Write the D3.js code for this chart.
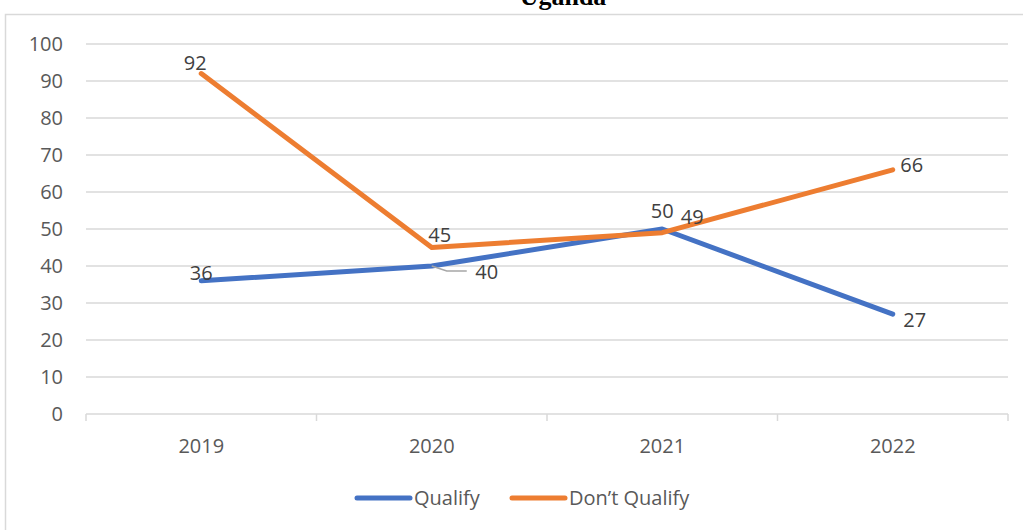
<!DOCTYPE html>
<html>
<head>
<meta charset="utf-8">
<script src="https://cdn.jsdelivr.net/npm/d3@7"></script>
<style>
  body { margin: 0; background: #fff; }
  svg { display: block; font-family: "Open Sans", "Noto Sans", sans-serif; }
</style>
</head>
<body>
<svg id="chart" width="1023" height="530"></svg>
<script>
// chart data
var years = ["2019", "2020", "2021", "2022"];
var qualify = [36, 40, 50, 27];
var dontQualify = [92, 45, 49, 66];
var yTicks = [0, 10, 20, 30, 40, 50, 60, 70, 80, 90, 100];
var seriesNames = ["Qualify", "Don\u2019t Qualify"];

var W = 1023, H = 530;
var m = {left: 86, right: 1008, top: 44, bottom: 414};
var colors = ["#4472C4", "#ED7D31"];

var svg = d3.select("#chart");

// outer frame
svg.append("rect")
   .attr("x", 5.5).attr("y", 14.5)
   .attr("width", W + 10).attr("height", H)
   .attr("fill", "none").attr("stroke", "#d9d9d9").attr("stroke-width", 1.5);

// title (cut off at the top in the original)
svg.append("text")
   .attr("x", 563).attr("y", 5)
   .attr("text-anchor", "middle")
   .attr("font-family", "Liberation Serif, serif")
   .attr("font-weight", "bold")
   .attr("font-size", 26)
   .text("Uganda");

var x = d3.scaleBand().domain(years).range([m.left, m.right]);
var y = d3.scaleLinear().domain([0, 100]).range([m.bottom, m.top]);

// gridlines
svg.append("g").selectAll("line")
   .data(yTicks)
   .enter()
   .append("line")
   .attr("x1", m.left).attr("x2", m.right)
   .attr("y1", function(d){ return y(d); })
   .attr("y2", function(d){ return y(d); })
   .attr("stroke", "#d9d9d9").attr("stroke-width", 1.5);

// y labels
svg.append("g").selectAll("text")
   .data(yTicks)
   .enter()
   .append("text")
   .attr("x", 63)
   .attr("y", function(d){ return y(d); })
   .attr("dy", "0.35em")
   .attr("text-anchor", "end")
   .attr("font-size", 20)
   .attr("fill", "#595959")
   .text(function(d){ return d; });

// x axis ticks
var xAxis = d3.axisBottom(x).tickSize(0).tickPadding(0);
var bounds = years.map(function(d){ return x(d); }).concat([m.right]);
svg.append("g").selectAll("line")
   .data(bounds)
   .enter()
   .append("line")
   .attr("x1", function(d){ return d; }).attr("x2", function(d){ return d; })
   .attr("y1", m.bottom).attr("y2", m.bottom + 7)
   .attr("stroke", "#d9d9d9").attr("stroke-width", 1.5);

var gx = svg.append("g")
   .attr("transform", "translate(0," + m.bottom + ")")
   .call(xAxis);
gx.select(".domain").remove();
gx.selectAll("text")
   .attr("y", 39)
   .attr("dy", "0")
   .attr("font-size", 20)
   .attr("font-family", "Open Sans, Noto Sans, sans-serif")
   .attr("fill", "#595959");

var cx = function(d, i){ return x(years[i]) + x.bandwidth() / 2; };

var line = d3.line()
   .x(cx)
   .y(function(d){ return y(d); });

[qualify, dontQualify].forEach(function(s, k){
    svg.append("path")
       .datum(s)
       .attr("d", line)
       .attr("fill", "none")
       .attr("stroke", colors[k])
       .attr("stroke-width", 5)
       .attr("stroke-linecap", "round")
       .attr("stroke-linejoin", "round");
});

// leader line for the 40 label
var lx = cx(0, 1), ly = y(qualify[1]);
svg.append("polyline")
   .attr("points", [[lx, ly], [lx + 15, ly + 5], [lx + 35, ly + 5]].join(" "))
   .attr("fill", "none")
   .attr("stroke", "#a6a6a6").attr("stroke-width", 1.5);

// data label offsets
var qOff = [[0, -8], [55, 6], [0, -18], [22, 6]];
var dOff = [[-6, -11], [8, -13], [30, -16], [19, -5]];

function labels(s, off){
    svg.append("g").selectAll("text")
       .data(s)
       .enter()
       .append("text")
       .attr("x", function(d, i){ return cx(d, i) + off[i][0]; })
       .attr("y", function(d, i){ return y(d) + off[i][1]; })
       .attr("dy", "0.35em")
       .attr("text-anchor", "middle")
       .attr("font-size", 20)
       .attr("fill", "#404040")
       .text(function(d){ return d; });
}
labels(qualify, qOff);
labels(dontQualify, dOff);

// legend
var leg = svg.append("g").attr("transform", "translate(0,498)");
var legX = [357, 512];
seriesNames.forEach(function(n, k){
    leg.append("line")
       .attr("x1", legX[k]).attr("x2", legX[k] + 53)
       .attr("y1", 0).attr("y2", 0)
       .attr("stroke", colors[k]).attr("stroke-width", 5)
       .attr("stroke-linecap", "round");
    leg.append("text")
       .attr("x", legX[k] + 57).attr("y", 0)
       .attr("dy", "0.35em")
       .attr("font-size", 20)
       .attr("fill", "#595959")
       .text(n);
});
</script>
</body>
</html>
